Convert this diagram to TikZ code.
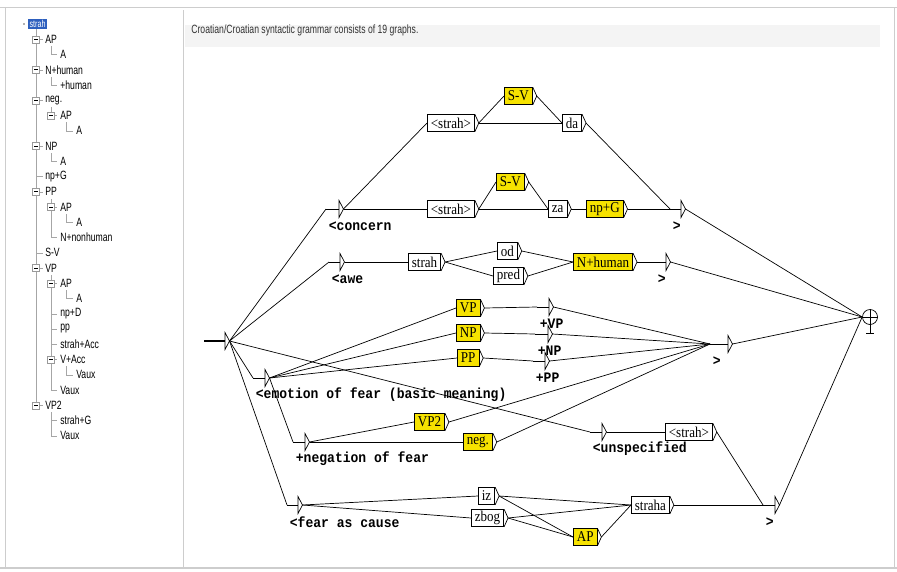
\documentclass[tikz,border=0pt]{standalone}
\usepackage{fontspec}
\newfontfamily\boxfont[FakeStretch=0.87]{Liberation Serif}
\newfontfamily\outfont[FakeStretch=0.9]{Liberation Mono}
\newfontfamily\panelfont[FakeStretch=0.72]{Liberation Sans}
\usetikzlibrary{calc}

\definecolor{boxyellow}{RGB}{246,226,0}
\definecolor{framegray}{RGB}{205,205,205}
\definecolor{bargray}{RGB}{244,244,244}
\definecolor{selblue}{RGB}{45,95,190}

\tikzset{
  grbox/.style={draw, fill=white, anchor=west, inner xsep=3.5pt, inner ysep=0pt,
    minimum height=17pt, font=\boxfont\fontsize{15}{15}\selectfont},
  yelbox/.style={grbox, fill=boxyellow},
  outlbl/.style={anchor=west, inner sep=0pt, font=\outfont\bfseries\fontsize{14.5}{14.5}\selectfont},
  treelbl/.style={anchor=west, inner sep=0pt, font=\panelfont\fontsize{12}{12}\selectfont},
  treeline/.style={draw=gray!70, line width=0.5pt},
  tbox/.style={draw=gray!80, fill=white, minimum size=7pt, inner sep=0pt, line width=0.5pt,
    path picture={\draw[black, line width=0.6pt] ([xshift=1.5pt]path picture bounding box.west) -- ([xshift=-1.5pt]path picture bounding box.east);}},
}

% box with its tip: [style]{name}{left x}{mid y}{text}
\newcommand{\grbox}[5][grbox]{%
  \node[#1] (#2) at (#3,#4) {#5};
  \draw (#2.north east) -- ([xshift=4pt]#2.east) coordinate (#2-o) -- (#2.south east);
}
% empty box: {name}{entry x}{tip x}{mid y}{output}
\newcommand{\grempty}[5]{%
  \coordinate (#1) at (#2,#4);
  \draw (#1) -- (#3,#4);
  \draw (#3,#4-8.5) -- (#3+4.5,#4) coordinate (#1-o) -- (#3,#4+8.5) -- cycle;
  \node[outlbl] (#1-l) at ([shift={(2.5pt,-17pt)}]#1) {#5};
}

\begin{document}
\begin{tikzpicture}[x=1pt, y=-1pt, line width=0.7pt]
  \useasboundingbox (0,0) rectangle (897,571);

  % window frame
  \draw[framegray] (0,7) -- (897,7);
  \draw[framegray] (5,7) -- (5,567);
  \draw[framegray] (183,10) -- (183,567);
  \draw[framegray] (894,7) -- (894,567);
  \draw[framegray, line width=1.2pt] (0,568) -- (897,568);
  \fill[bargray] (185,25) rectangle (880,47);
  \node[treelbl, text=black!80] (title) at (191,30)
    {Croatian/Croatian syntactic grammar consists of 19 graphs.};

  % graph tree
  \draw[treeline] (36,29) -- (36,405.25);
  \draw[treeline] (36,39.25) -- (43,39.25);
  \draw[treeline] (36,69.75) -- (43,69.75);
  \draw[treeline] (36,100.25) -- (43,100.25);
  \draw[treeline] (36,146) -- (43,146);
  \draw[treeline] (36,176.5) -- (43,176.5);
  \draw[treeline] (36,191.75) -- (43,191.75);
  \draw[treeline] (36,252.75) -- (43,252.75);
  \draw[treeline] (36,268) -- (43,268);
  \draw[treeline] (36,405.25) -- (43,405.25);

  \draw[treeline] (51,46) -- (51,54.5) -- (57,54.5);
  \draw[treeline] (51,77) -- (51,85) -- (57,85);
  \draw[treeline] (51,107) -- (51,115.5) -- (57,115.5);
  \draw[treeline] (51,153) -- (51,161.25) -- (57,161.25);
  \draw[treeline] (51,199) -- (51,237.5) -- (57,237.5);
  \draw[treeline] (51,207) -- (57,207);
  \draw[treeline] (51,275) -- (51,390) -- (57,390);
  \draw[treeline] (51,283.25) -- (57,283.25);
  \draw[treeline] (51,313.75) -- (57,313.75);
  \draw[treeline] (51,329) -- (57,329);
  \draw[treeline] (51,344.25) -- (57,344.25);
  \draw[treeline] (51,359.5) -- (57,359.5);
  \draw[treeline] (51,412) -- (51,435.75) -- (57,435.75);
  \draw[treeline] (51,420.5) -- (57,420.5);

  \draw[treeline] (66,122) -- (66,130.75) -- (73,130.75);
  \draw[treeline] (66,214) -- (66,222.25) -- (73,222.25);
  \draw[treeline] (66,290) -- (66,298.5) -- (73,298.5);
  \draw[treeline] (66,366) -- (66,374.75) -- (73,374.75);

  \node[tbox] (tb1) at (36,39.25) {};
  \node[tbox] (tb3) at (36,69.75) {};
  \node[tbox] (tb5) at (36,100.25) {};
  \node[tbox] (tb6) at (51,115.5) {};
  \node[tbox] (tb8) at (36,146) {};
  \node[tbox] (tb11) at (36,191.75) {};
  \node[tbox] (tb12) at (51,207) {};
  \node[tbox] (tb16) at (36,268) {};
  \node[tbox] (tb17) at (51,283.25) {};
  \node[tbox] (tb22) at (51,359.5) {};
  \node[tbox] (tb25) at (36,405.25) {};

  \fill[gray!60] (23,23) rectangle (25,25);
  \node[treelbl, fill=selblue, text=white, inner sep=1.2pt, font=\panelfont\fontsize{10}{10}\selectfont] (t0) at (28,24) {strah};
  \node[treelbl] (t1) at (45,39.25) {AP};
  \node[treelbl] (t2) at (60,54.5) {A};
  \node[treelbl] (t3) at (45,69.75) {N+human};
  \node[treelbl] (t4) at (60,85) {+human};
  \node[treelbl] (t5) at (45,100.25) {neg.};
  \node[treelbl] (t6) at (60,115.5) {AP};
  \node[treelbl] (t7) at (76,130.75) {A};
  \node[treelbl] (t8) at (45,146) {NP};
  \node[treelbl] (t9) at (60,161.25) {A};
  \node[treelbl] (t10) at (45,176.5) {np+G};
  \node[treelbl] (t11) at (45,191.75) {PP};
  \node[treelbl] (t12) at (60,207) {AP};
  \node[treelbl] (t13) at (76,222.25) {A};
  \node[treelbl] (t14) at (60,237.5) {N+nonhuman};
  \node[treelbl] (t15) at (45,252.75) {S-V};
  \node[treelbl] (t16) at (45,268) {VP};
  \node[treelbl] (t17) at (60,283.25) {AP};
  \node[treelbl] (t18) at (76,298.5) {A};
  \node[treelbl] (t19) at (60,313.75) {np+D};
  \node[treelbl] (t20) at (60,329) {pp};
  \node[treelbl] (t21) at (60,344.25) {strah+Acc};
  \node[treelbl] (t22) at (60,359.5) {V+Acc};
  \node[treelbl] (t23) at (76,374.75) {Vaux};
  \node[treelbl] (t24) at (60,390) {Vaux};
  \node[treelbl] (t25) at (45,405.25) {VP2};
  \node[treelbl] (t26) at (60,420.5) {strah+G};
  \node[treelbl] (t27) at (60,435.75) {Vaux};

  % initial and final states
  \coordinate (init) at (204,341);
  \draw[line width=1.6pt] (init) -- (225,341);
  \draw (225,332.5) -- (229.5,341) coordinate (init-o) -- (225,349.5) -- cycle;
  \node[circle, draw, minimum size=15pt, inner sep=0pt] (fin) at (870,317) {};
  \draw (fin.west) -- (fin.east) (fin.north) -- (870,333) (866,333) -- (874,333);

  % concern
  \grempty{concern}{326}{339}{209}{<concern}
  \grbox{strahA}{427}{123}{<strah>}
  \grbox[yelbox]{svA}{504}{96}{S-V}
  \grbox{da}{562}{123}{da}
  \grbox{strahB}{427}{209}{<strah>}
  \grbox[yelbox]{svB}{496}{182}{S-V}
  \grbox{za}{548}{209}{za}
  \grbox[yelbox]{npg}{586}{209}{np+G}
  \grempty{concernend}{670}{681}{209}{>}

  % awe
  \grempty{awe}{329}{340}{262}{<awe}
  \grbox{strahC}{408}{262}{strah}
  \grbox{od}{497}{251}{od}
  \grbox{pred}{493}{276}{pred}
  \grbox[yelbox]{nhum}{573}{262}{N+human}
  \grempty{aweend}{655}{666}{262}{>}

  % emotion of fear
  \grempty{emotion}{253}{265}{378}{<emotion of fear (basic meaning)}
  \grbox[yelbox]{vp}{456}{308}{VP}
  \grbox[yelbox]{np}{456}{333}{NP}
  \grbox[yelbox]{pp}{457}{358}{PP}
  \grempty{plusvp}{537}{549}{307}{+VP}
  \grempty{plusnp}{535}{548}{334}{+NP}
  \grempty{pluspp}{533}{545}{361}{+PP}
  \grempty{emoend}{710}{728}{344}{>}

  % negation
  \grempty{negation}{293}{305}{442}{+negation of fear}
  \grbox[yelbox]{vptwo}{414}{422}{VP2}
  \grbox[yelbox]{neg}{463}{442}{neg.}

  % unspecified
  \grempty{unspec}{590}{602}{432}{<unspecified}
  \grbox{strahD}{665}{432}{<strah>}

  % fear as cause
  \grempty{cause}{287}{298}{505}{<fear as cause}
  \grbox{iz}{478}{496}{iz}
  \grbox{zbog}{471}{518}{zbog}
  \grbox[yelbox]{ap}{573}{537}{AP}
  \grbox{straha}{631}{505}{straha}
  \grempty{causeend}{763}{775}{505}{>}

  % transitions
  \draw (init-o) -- (concern);
  \draw (init-o) -- (awe);
  \draw (init-o) -- (emotion);
  \draw (init-o) -- (unspec);
  \draw (init-o) -- (cause);

  \draw (concern-o) -- (strahA.west);
  \draw (concern-o) -- (strahB.west);
  \draw (strahA-o) -- (svA.west);
  \draw (strahA-o) -- (da.west);
  \draw (svA-o) -- (da.west);
  \draw (da-o) -- (concernend);
  \draw (strahB-o) -- (svB.west);
  \draw (strahB-o) -- (za.west);
  \draw (svB-o) -- (za.west);
  \draw (za-o) -- (npg.west);
  \draw (npg-o) -- (concernend);

  \draw (awe-o) -- (strahC.west);
  \draw (strahC-o) -- (od.west);
  \draw (strahC-o) -- (pred.west);
  \draw (od-o) -- (nhum.west);
  \draw (pred-o) -- (nhum.west);
  \draw (nhum-o) -- (aweend);

  \draw (emotion-o) -- (vp.west);
  \draw (emotion-o) -- (np.west);
  \draw (emotion-o) -- (pp.west);
  \draw (emotion-o) -- (negation);
  \draw (vp-o) -- (plusvp);
  \draw (np-o) -- (plusnp);
  \draw (pp-o) -- (pluspp);
  \draw (plusvp-o) -- (emoend);
  \draw (plusnp-o) -- (emoend);
  \draw (pluspp-o) -- (emoend);
  \draw (negation-o) -- (vptwo.west);
  \draw (negation-o) -- (neg.west);
  \draw (vptwo-o) -- (emoend);
  \draw (neg-o) -- (emoend);

  \draw (unspec-o) -- (strahD.west);
  \draw (strahD-o) -- (causeend);

  \draw (cause-o) -- (iz.west);
  \draw (cause-o) -- (zbog.west);
  \draw (iz-o) -- (straha.west);
  \draw (iz-o) -- (ap.west);
  \draw (zbog-o) -- (straha.west);
  \draw (zbog-o) -- (ap.west);
  \draw (ap-o) -- (straha.west);
  \draw (straha-o) -- (causeend);

  \draw (concernend-o) -- (fin.west);
  \draw (aweend-o) -- (fin.west);
  \draw (emoend-o) -- (fin.west);
  \draw (causeend-o) -- (fin.west);
\end{tikzpicture}
\end{document}
